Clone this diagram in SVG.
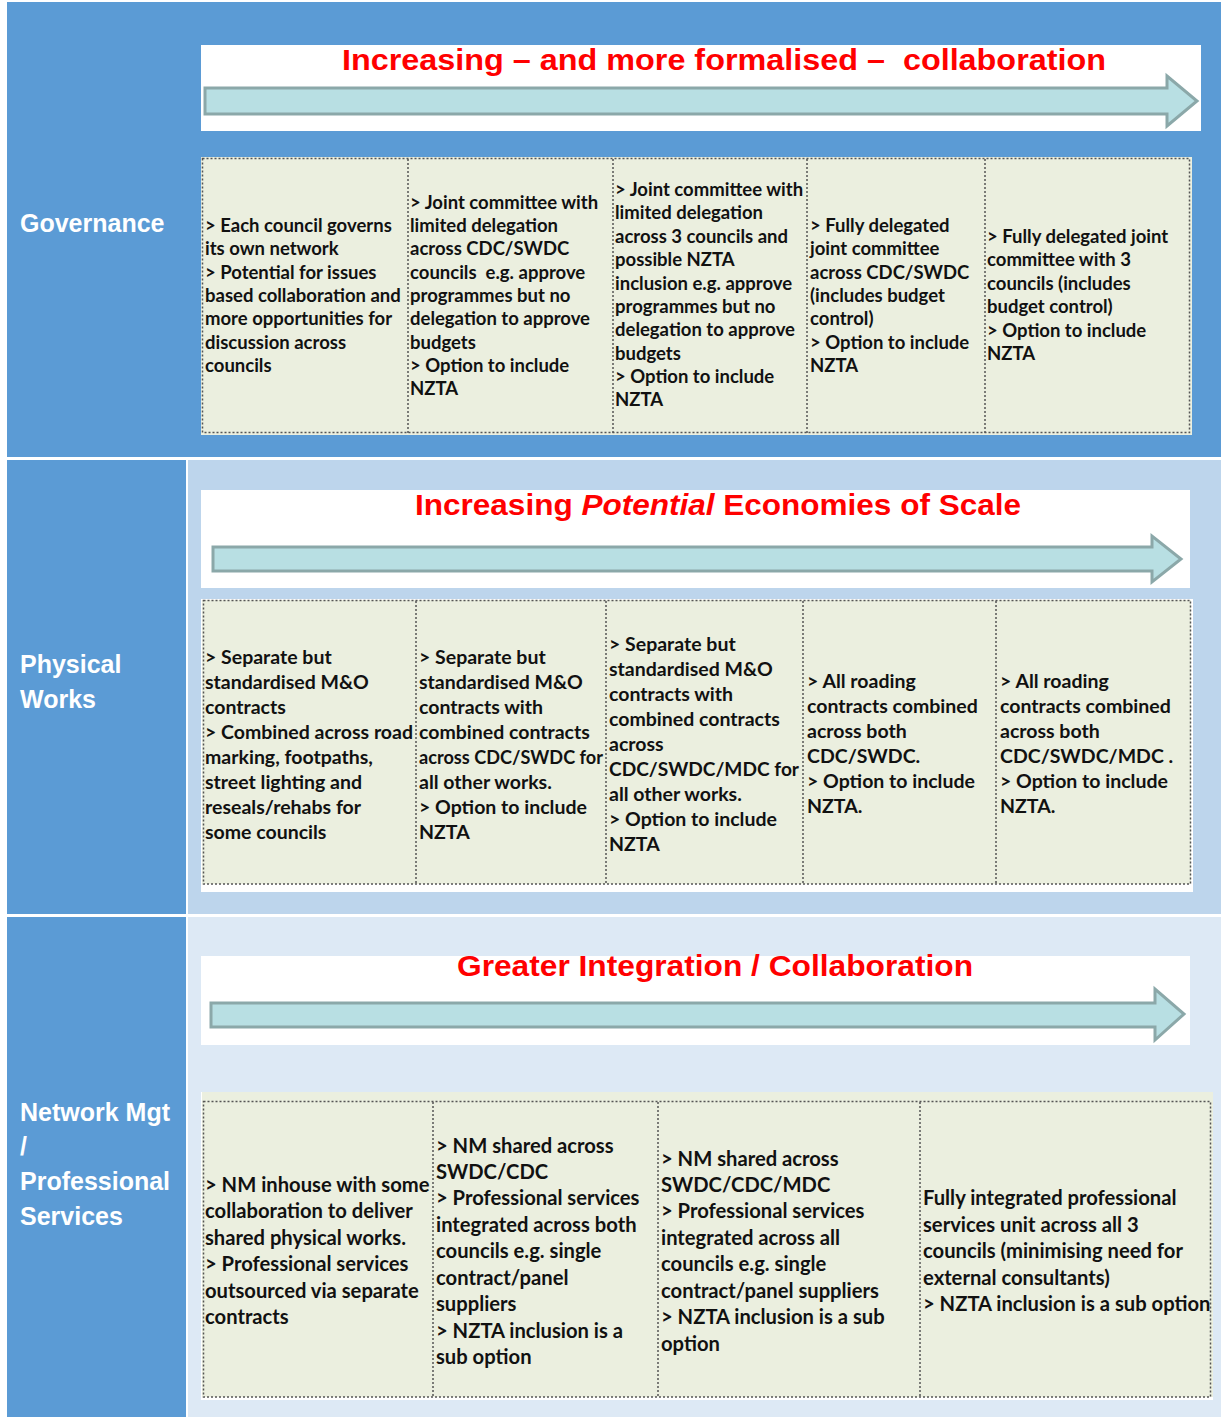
<svg xmlns="http://www.w3.org/2000/svg" width="1221" height="1417" viewBox="0 0 1221 1417">
<style>
.lbl{font-family:"Liberation Sans",Arial,sans-serif;font-weight:bold;font-size:25px;fill:#fff}
.ttl{font-family:"Liberation Sans",Arial,sans-serif;font-weight:bold;font-size:29px;fill:#ff0000}
.t1{font-family:Lato,"Open Sans",sans-serif;font-weight:bold;font-size:18.5px;fill:#111}
.t2{font-family:Lato,"Open Sans",sans-serif;font-weight:bold;font-size:19.5px;fill:#111}
.t3{font-family:Lato,"Open Sans",sans-serif;font-weight:bold;font-size:20.2px;fill:#111}
.cell{fill:#ebefdf}
.dot{fill:none;stroke:#555;stroke-width:1.5;stroke-dasharray:2 2}
.arrow{fill:#b8dfe3;stroke:#8ba8a9;stroke-width:3;stroke-linejoin:miter}
</style>
<rect width="1221" height="1417" fill="#fff"/>
<rect x="7" y="2" width="1214" height="455" fill="#5b9bd5"/>
<rect x="7" y="460" width="179" height="454" fill="#5b9bd5"/>
<rect x="188" y="460" width="1033" height="454" fill="#bdd5ec"/>
<rect x="7" y="917" width="179" height="500" fill="#5b9bd5"/>
<rect x="188" y="917" width="1033" height="500" fill="#dde9f5"/>

<g id="label-governance"><text class="lbl" x="20" y="232">Governance</text></g>
<g id="label-physical"><text class="lbl" x="20" y="673">Physical</text><text class="lbl" x="20" y="708">Works</text></g>
<g id="label-network"><text class="lbl" x="20" y="1121">Network Mgt</text><text class="lbl" x="20" y="1155">/</text><text class="lbl" x="20" y="1190">Professional</text><text class="lbl" x="20" y="1225">Services</text></g>

<g id="banner-1">
<rect x="201" y="45" width="1000" height="86" fill="#fff"/>
<text class="ttl" x="342" y="70" xml:space="preserve" textLength="764" lengthAdjust="spacingAndGlyphs">Increasing – and more formalised –  collaboration</text>
<polygon class="arrow" points="205,88 1167,88 1167,76 1197,101 1167,126 1167,114 205,114"/>
</g>
<g id="banner-2">
<rect x="201" y="490" width="989" height="98" fill="#fff"/>
<text class="ttl" x="415" y="515" textLength="606" lengthAdjust="spacingAndGlyphs">Increasing <tspan font-style="italic">Potential</tspan> Economies of Scale</text>
<polygon class="arrow" points="213,547 1152,547 1152,536 1181,559 1152,582 1152,571 213,571"/>
</g>
<g id="banner-3">
<rect x="201" y="956" width="989" height="89" fill="#fff"/>
<text class="ttl" x="457" y="976" textLength="516" lengthAdjust="spacingAndGlyphs">Greater Integration / Collaboration</text>
<polygon class="arrow" points="211,1003 1155,1003 1155,989 1184,1014 1155,1040 1155,1027 211,1027"/>
</g>

<g id="table-1">
<rect class="cell" x="201" y="157" width="991" height="278"/>
<rect class="dot" x="202.5" y="158.5" width="987" height="274"/>
<path class="dot" d="M408 159V433M613 159V433M807 159V433M985 159V433"/>
<g id="t1c1"><text class="t1"><tspan x="205" y="232">&gt; Each council governs</tspan><tspan x="205" y="255">its own network</tspan><tspan x="205" y="279">&gt; Potential for issues</tspan><tspan x="205" y="302">based collaboration and</tspan><tspan x="205" y="325">more opportunities for</tspan><tspan x="205" y="349">discussion across</tspan><tspan x="205" y="372">councils</tspan></text></g>
<g id="t1c2"><text class="t1"><tspan x="410" y="209">&gt; Joint committee with</tspan><tspan x="410" y="232">limited delegation</tspan><tspan x="410" y="255">across CDC/SWDC</tspan><tspan x="410" y="279" xml:space="preserve">councils  e.g. approve</tspan><tspan x="410" y="302">programmes but no</tspan><tspan x="410" y="325">delegation to approve</tspan><tspan x="410" y="349">budgets</tspan><tspan x="410" y="372">&gt; Option to include</tspan><tspan x="410" y="395">NZTA</tspan></text></g>
<g id="t1c3"><text class="t1"><tspan x="615" y="196">&gt; Joint committee with</tspan><tspan x="615" y="219">limited delegation</tspan><tspan x="615" y="243">across 3 councils and</tspan><tspan x="615" y="266">possible NZTA</tspan><tspan x="615" y="290">inclusion e.g. approve</tspan><tspan x="615" y="313">programmes but no</tspan><tspan x="615" y="336">delegation to approve</tspan><tspan x="615" y="360">budgets</tspan><tspan x="615" y="383">&gt; Option to include</tspan><tspan x="615" y="406">NZTA</tspan></text></g>
<g id="t1c4"><text class="t1"><tspan x="810" y="232">&gt; Fully delegated</tspan><tspan x="810" y="255">joint committee</tspan><tspan x="810" y="279">across CDC/SWDC</tspan><tspan x="810" y="302">(includes budget</tspan><tspan x="810" y="325">control)</tspan><tspan x="810" y="349">&gt; Option to include</tspan><tspan x="810" y="372">NZTA</tspan></text></g>
<g id="t1c5"><text class="t1"><tspan x="987" y="243">&gt; Fully delegated joint</tspan><tspan x="987" y="266">committee with 3</tspan><tspan x="987" y="290">councils (includes</tspan><tspan x="987" y="313">budget control)</tspan><tspan x="987" y="337">&gt; Option to include</tspan><tspan x="987" y="360">NZTA</tspan></text></g>
</g>

<g id="table-2">
<rect x="201" y="599" width="992" height="293" fill="#fff"/>
<rect class="cell" x="202" y="600" width="989" height="284"/>
<rect class="dot" x="203.5" y="600.5" width="987" height="283.5"/>
<path class="dot" d="M416 601V884M606 601V884M803 601V884M996 601V884"/>
<g id="t2c1"><text class="t2"><tspan x="205" y="664">&gt; Separate but</tspan><tspan x="205" y="689">standardised M&amp;O</tspan><tspan x="205" y="714">contracts</tspan><tspan x="205" y="739">&gt; Combined across road</tspan><tspan x="205" y="764">marking, footpaths,</tspan><tspan x="205" y="789">street lighting and</tspan><tspan x="205" y="814">reseals/rehabs for</tspan><tspan x="205" y="839">some councils</tspan></text></g>
<g id="t2c2"><text class="t2"><tspan x="419" y="664">&gt; Separate but</tspan><tspan x="419" y="689">standardised M&amp;O</tspan><tspan x="419" y="714">contracts with</tspan><tspan x="419" y="739">combined contracts</tspan><tspan x="419" y="764" textLength="184" lengthAdjust="spacingAndGlyphs">across CDC/SWDC for</tspan><tspan x="419" y="789">all other works.</tspan><tspan x="419" y="814">&gt; Option to include</tspan><tspan x="419" y="839">NZTA</tspan></text></g>
<g id="t2c3"><text class="t2"><tspan x="609" y="651">&gt; Separate but</tspan><tspan x="609" y="676">standardised M&amp;O</tspan><tspan x="609" y="701">contracts with</tspan><tspan x="609" y="726">combined contracts</tspan><tspan x="609" y="751">across</tspan><tspan x="609" y="776" textLength="190" lengthAdjust="spacingAndGlyphs">CDC/SWDC/MDC for</tspan><tspan x="609" y="801">all other works.</tspan><tspan x="609" y="826">&gt; Option to include</tspan><tspan x="609" y="851">NZTA</tspan></text></g>
<g id="t2c4"><text class="t2"><tspan x="807" y="688">&gt; All roading</tspan><tspan x="807" y="713">contracts combined</tspan><tspan x="807" y="738">across both</tspan><tspan x="807" y="763">CDC/SWDC.</tspan><tspan x="807" y="788">&gt; Option to include</tspan><tspan x="807" y="813">NZTA.</tspan></text></g>
<g id="t2c5"><text class="t2"><tspan x="1000" y="688">&gt; All roading</tspan><tspan x="1000" y="713">contracts combined</tspan><tspan x="1000" y="738">across both</tspan><tspan x="1000" y="763">CDC/SWDC/MDC .</tspan><tspan x="1000" y="788">&gt; Option to include</tspan><tspan x="1000" y="813">NZTA.</tspan></text></g>
</g>

<g id="table-3">
<rect x="201" y="1092" width="1012" height="308" fill="#fff"/>
<rect class="cell" x="202" y="1092" width="1011" height="305"/>
<rect class="dot" x="203.5" y="1101.5" width="1007" height="295.5"/>
<path class="dot" d="M433 1102V1397M658 1102V1397M920 1102V1397"/>
<g id="t3c1"><text class="t3"><tspan x="205" y="1192">&gt; NM inhouse with some</tspan><tspan x="205" y="1218">collaboration to deliver</tspan><tspan x="205" y="1245">shared physical works.</tspan><tspan x="205" y="1271">&gt; Professional services</tspan><tspan x="205" y="1298">outsourced via separate</tspan><tspan x="205" y="1324">contracts</tspan></text></g>
<g id="t3c2"><text class="t3"><tspan x="436" y="1153">&gt; NM shared across</tspan><tspan x="436" y="1179">SWDC/CDC</tspan><tspan x="436" y="1205">&gt; Professional services</tspan><tspan x="436" y="1232">integrated across both</tspan><tspan x="436" y="1258">councils e.g. single</tspan><tspan x="436" y="1285">contract/panel</tspan><tspan x="436" y="1311">suppliers</tspan><tspan x="436" y="1338">&gt; NZTA inclusion is a</tspan><tspan x="436" y="1364">sub option</tspan></text></g>
<g id="t3c3"><text class="t3"><tspan x="661" y="1166">&gt; NM shared across</tspan><tspan x="661" y="1192">SWDC/CDC/MDC</tspan><tspan x="661" y="1218">&gt; Professional services</tspan><tspan x="661" y="1245">integrated across all</tspan><tspan x="661" y="1271">councils e.g. single</tspan><tspan x="661" y="1298">contract/panel suppliers</tspan><tspan x="661" y="1324">&gt; NZTA inclusion is a sub</tspan><tspan x="661" y="1351">option</tspan></text></g>
<g id="t3c4"><text class="t3"><tspan x="923" y="1205">Fully integrated professional</tspan><tspan x="923" y="1232">services unit across all 3</tspan><tspan x="923" y="1258">councils (minimising need for</tspan><tspan x="923" y="1285">external consultants)</tspan><tspan x="923" y="1311">&gt; NZTA inclusion is a sub option</tspan></text></g>
</g>
</svg>
